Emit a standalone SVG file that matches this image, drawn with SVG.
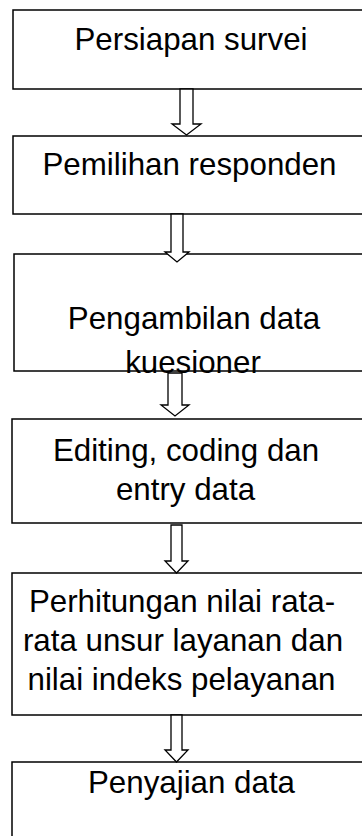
<svg xmlns="http://www.w3.org/2000/svg" width="362" height="836" viewBox="0 0 362 836">
<style>
.box{fill:#fff;stroke:#000;stroke-width:1.5}
.arr{fill:#fff;stroke:#000;stroke-width:1.3;stroke-linejoin:miter}
.t{font-family:"Liberation Sans",Arial,sans-serif;font-size:31.3px;fill:#000;text-anchor:middle}
</style>
<rect width="362" height="836" fill="#fff"/>
<g id="n1"><rect class="box" x="13" y="10" width="360" height="79"/><text class="t" x="191" y="50">Persiapan survei</text></g>
<g id="n2"><rect class="box" x="13" y="136" width="360" height="78"/><text class="t" x="189.5" y="175">Pemilihan responden</text></g>
<g id="n3"><rect class="box" x="14" y="254" width="360" height="117"/><text class="t" x="194" y="329">Pengambilan data</text><text class="t" x="193" y="373">kuesioner</text></g>
<g id="n4"><rect class="box" x="12" y="419" width="360" height="104"/><text class="t" x="186" y="461">Editing, coding dan</text><text class="t" x="185.5" y="500">entry data</text></g>
<g id="n5"><rect class="box" x="12" y="573" width="360" height="142"/><text class="t" x="182" y="612">Perhitungan nilai rata-</text><text class="t" x="183" y="651">rata unsur layanan dan</text><text class="t" x="181.5" y="690">nilai indeks pelayanan</text></g>
<g id="n6"><rect class="box" x="12" y="762" width="360" height="100"/><text class="t" x="191.5" y="793">Penyajian data</text></g>
<g id="connectors">
<polygon class="arr" points="180,89 193,89 193,124 201,124 186.5,135 172,124 180,124"/>
<polygon class="arr" points="171,214 183,214 183,252 189,252 177,262 165,252 171,252"/>
<polygon class="arr" points="168,373 182,373 182,405 189,405 175,416 161,405 168,405"/>
<polygon class="arr" points="171,525 182,525 182,561 188,561 176.5,573 165,561 171,561"/>
<polygon class="arr" points="171,715 182,715 182,750 188,750 176.5,762 165,750 171,750"/>
</g>
</svg>
